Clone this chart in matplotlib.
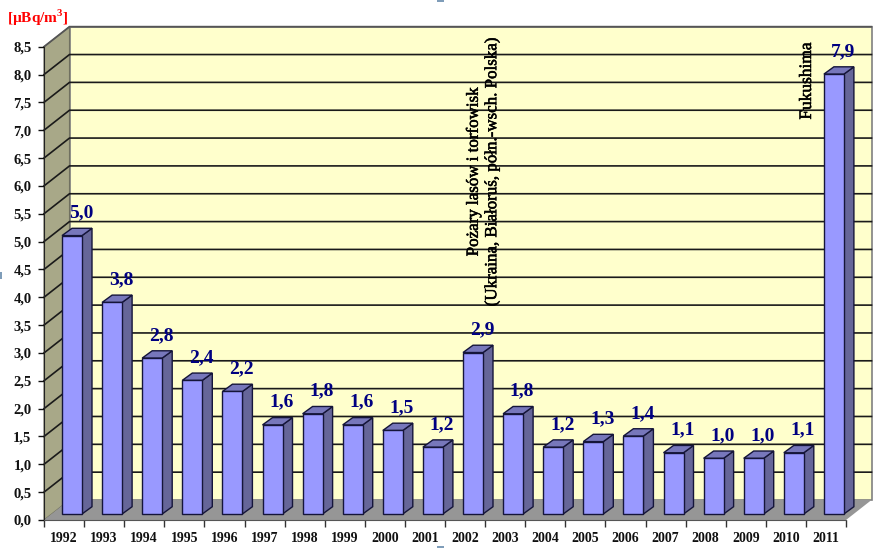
import matplotlib
matplotlib.use("Agg")
import matplotlib.pyplot as plt
import matplotlib.patheffects as pe
from matplotlib.patches import Polygon, Rectangle
import numpy as np

years = [1992, 1993, 1994, 1995, 1996, 1997, 1998, 1999, 2000, 2001,
         2002, 2003, 2004, 2005, 2006, 2007, 2008, 2009, 2010, 2011]
values = [5.0, 3.8, 2.8, 2.4, 2.2, 1.6, 1.8, 1.6, 1.5, 1.2,
          2.9, 1.8, 1.2, 1.3, 1.4, 1.1, 1.0, 1.0, 1.1, 7.9]
y_ticks = [0.0, 0.5, 1.0, 1.5, 2.0, 2.5, 3.0, 3.5, 4.0, 4.5,
           5.0, 5.5, 6.0, 6.5, 7.0, 7.5, 8.0, 8.5]
unit_label = "[µBq/m$^{\\mathbf{3}}$]"
note_fires = "Pożary lasów i torfowisk\n(Ukraina, Białoruś, półn.-wsch. Polska)"
note_fuku = "Fukushima"

plt.rcParams['font.family'] = ['Liberation Serif', 'DejaVu Serif']
plt.rcParams['mathtext.fontset'] = 'custom'
plt.rcParams['mathtext.bf'] = 'Liberation Serif:bold'

W, H = 880, 548
LEFT, RIGHT, BOTTOM, TOP = 44, 846, 520, 46.7

fig = plt.figure(figsize=(W / 100, H / 100), dpi=100, facecolor='white')
ax = fig.add_axes([LEFT / W, 1 - BOTTOM / H, (RIGHT - LEFT) / W, (BOTTOM - TOP) / H])
ax.set_xlim(0, len(years))
ax.set_ylim(0, 8.5)

# pixels to data units, for the fake 3d depth
px_x = len(years) / (RIGHT - LEFT)
px_y = 8.5 / (BOTTOM - TOP)
wall_dx, wall_dy = 25.5 * px_x, 20 * px_y
n = len(years)
line = '#1a1a1a'


def poly(pts, fc, z, ec='none', lw=0):
    ax.add_patch(Polygon(pts, closed=True, facecolor=fc, edgecolor=ec, linewidth=lw,
                         zorder=z, clip_on=False, joinstyle='miter'))


# walls and floor
poly([(wall_dx, wall_dy), (n + wall_dx, wall_dy), (n + wall_dx, 8.5 + wall_dy), (wall_dx, 8.5 + wall_dy)],
     '#FFFFCC', 1, '#808080', 1.2)
poly([(0, 0), (wall_dx, wall_dy), (wall_dx, 8.5 + wall_dy), (0, 8.5)], '#A8A888', 1.1, '#707060', 0.8)
poly([(0, 0), (n, 0), (n + wall_dx, wall_dy), (wall_dx, wall_dy)], '#969696', 1.2)

for t in y_ticks[1:-1]:
    ax.plot([0, wall_dx, n + wall_dx], [t, t + wall_dy, t + wall_dy], color=line, lw=1.2,
            zorder=1.15, clip_on=False, solid_joinstyle='miter')
ax.plot([0, wall_dx, n + wall_dx], [8.5, 8.5 + wall_dy, 8.5 + wall_dy], color='#555555', lw=1.3,
        zorder=1.15, clip_on=False, solid_joinstyle='miter')

# bars
bar_w = 20 * px_x
off_x, off_y = 18 * px_x, 6 * px_y
side_x, side_y = 10 * px_x, 7.3 * px_y
for i, v in enumerate(values):
    x0 = i + off_x
    x1 = x0 + bar_w
    y0 = off_y
    y1 = y0 + v
    poly([(x1, y0), (x1 + side_x, y0 + side_y), (x1 + side_x, y1 + side_y), (x1, y1)],
         '#666699', 2, '#15153a', 1.0)
    poly([(x0, y1), (x1, y1), (x1 + side_x, y1 + side_y), (x0 + side_x, y1 + side_y)],
         '#7777BB', 2, '#15153a', 1.0)
    poly([(x0, y0), (x1, y0), (x1, y1), (x0, y1)], '#9999FF', 2.1, '#15153a', 1.0)
    ax.text((x0 + x1 + side_x) / 2 + 4 * px_x, y1 + side_y + 7 * px_y, ('%.1f' % v).replace('.', ','),
            color='#000080', fontsize=14, fontweight='bold', ha='center', va='bottom', zorder=5)

# axes
ax.set_xticks(np.arange(n + 1))
ax.set_xticklabels([])
ax.set_xticks(np.arange(n) + 0.5, minor=True)
ax.set_xticklabels([str(y) for y in years], minor=True, fontsize=10, fontweight='bold', color='#111111')
ax.tick_params(axis='x', which='major', length=5, width=1.0, color='#333333')
ax.tick_params(axis='x', which='minor', length=0, pad=9)
ax.set_yticks(y_ticks)
ax.set_yticklabels([('%.1f' % t).replace('.', ',') for t in y_ticks], fontsize=10.5, fontweight='bold',
                   color='#111111')
ax.tick_params(axis='y', length=4, width=1.0, color='#111111', pad=5)
for s in ['top', 'right']:
    ax.spines[s].set_visible(False)
ax.spines['left'].set_color('#222222')
ax.spines['bottom'].set_color('#555555')
ax.patch.set_visible(False)

# annotations
heavy = [pe.withStroke(linewidth=0.4, foreground='black')]
fig.text(7 / W, 1 - 18 / H, unit_label, color='#FF0000', fontsize=11, fontweight='bold', ha='left', va='center')
fig.text(483 / W, 1 - 172 / H, note_fires, rotation=90, fontsize=12.2, color='black', ha='center', va='center',
         multialignment='center', linespacing=1.2, zorder=6, path_effects=heavy)
fig.text(807 / W, 1 - 81 / H, note_fuku, rotation=90, fontsize=12.5, color='black', ha='center', va='center',
         zorder=6, path_effects=heavy)

# selection handle bits left at the image edges
for hx, hy, hw, hh in [(437, 546, 7, 2), (437, 0, 7, 2), (0, 269, 2, 7)]:
    fig.add_artist(Rectangle((hx / W, hy / H), hw / W, hh / H, transform=fig.transFigure,
                             facecolor='#7F9DB9', edgecolor='none'))

fig.savefig('out.png', dpi=100, facecolor='white')
